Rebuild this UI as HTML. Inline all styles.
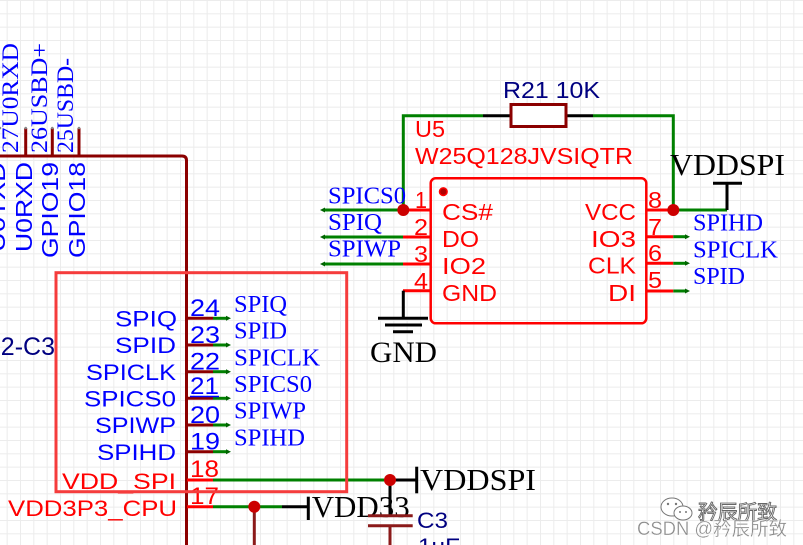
<!DOCTYPE html>
<html><head><meta charset="utf-8"><style>
html,body{margin:0;padding:0;background:#fff;}
svg{display:block;}
.sans{font-family:"Liberation Sans",Arial,sans-serif;}
.serif{font-family:"Liberation Serif","Times New Roman",serif;}
.cjk{font-family:"Liberation Sans","Noto Sans CJK SC",sans-serif;}
</style></head><body>
<svg width="803" height="545" viewBox="0 0 803 545" xmlns="http://www.w3.org/2000/svg">
<defs>
<pattern id="g" x="6.67" y="0" width="13.333" height="13.333" patternUnits="userSpaceOnUse">
<path d="M0 0.5 H13.333 M0.5 0 V13.333" stroke="#ececec" stroke-width="1" fill="none"/>
</pattern>
</defs>
<rect width="803" height="545" fill="#fff"/>
<rect width="803" height="545" fill="url(#g)"/>

<!-- left component -->
<path d="M0 156 H182 Q186.5 156 186.5 160.5 V545" stroke="#8b0000" stroke-width="3" fill="none"/>
<g stroke="#8b0000" stroke-width="3">
<line x1="25.7" y1="128" x2="25.7" y2="156"/>
<line x1="52.3" y1="128" x2="52.3" y2="156"/>
<line x1="79" y1="128" x2="79" y2="156"/>
</g>
<g fill="#888"><circle cx="25.7" cy="128" r="1.3"/><circle cx="52.3" cy="128" r="1.3"/><circle cx="79" cy="128" r="1.3"/><circle cx="0" cy="128" r="1.3"/></g>

<!-- rotated top labels -->
<g class="serif" fill="#0000ff" font-size="23">
<text transform="translate(18,153) rotate(-90)" textLength="110" lengthAdjust="spacingAndGlyphs">27U0RXD</text>
<text transform="translate(47,153) rotate(-90)" textLength="110" lengthAdjust="spacingAndGlyphs">26USBD+</text>
<text transform="translate(73,153) rotate(-90)" textLength="95" lengthAdjust="spacingAndGlyphs">25USBD-</text>
</g>
<g class="sans" fill="#0000ff" font-size="23">
<text transform="translate(5,252) rotate(-90)" textLength="90" lengthAdjust="spacingAndGlyphs">U0TXD</text>
<text transform="translate(32,252) rotate(-90)" textLength="90" lengthAdjust="spacingAndGlyphs">U0RXD</text>
<text transform="translate(58,258) rotate(-90)" textLength="96" lengthAdjust="spacingAndGlyphs">GPIO19</text>
<text transform="translate(85,258) rotate(-90)" textLength="96" lengthAdjust="spacingAndGlyphs">GPIO18</text>
</g>

<text class="sans" x="55" y="355" font-size="25" fill="#000080" text-anchor="end">ESP32-C3</text>

<!-- left comp pins -->
<g stroke-width="3">
<g stroke="#8b0000">
<line x1="187" y1="318.3" x2="213" y2="318.3"/>
<line x1="187" y1="345" x2="213" y2="345"/>
<line x1="187" y1="371.7" x2="213" y2="371.7"/>
<line x1="187" y1="398.3" x2="213" y2="398.3"/>
<line x1="187" y1="425" x2="213" y2="425"/>
<line x1="187" y1="451.7" x2="213" y2="451.7"/>
</g>
<g stroke="#008000">
<line x1="213" y1="318.3" x2="227" y2="318.3"/>
<line x1="213" y1="345" x2="227" y2="345"/>
<line x1="213" y1="371.7" x2="227" y2="371.7"/>
<line x1="213" y1="398.3" x2="227" y2="398.3"/>
<line x1="213" y1="425" x2="227" y2="425"/>
<line x1="213" y1="451.7" x2="227" y2="451.7"/>
</g>
</g>
<g fill="#006400">
<polygon points="226,315.8 231,318.3 226,320.8"/>
<polygon points="226,342.5 231,345 226,347.5"/>
<polygon points="226,369.2 231,371.7 226,374.2"/>
<polygon points="226,395.8 231,398.3 226,400.8"/>
<polygon points="226,422.5 231,425 226,427.5"/>
<polygon points="226,449.2 231,451.7 226,454.2"/>
</g>

<!-- pin names inside left comp -->
<g class="sans" font-size="22" fill="#0000ff">
<text x="115" y="326.5" textLength="62" lengthAdjust="spacingAndGlyphs">SPIQ</text>
<text x="115" y="353" textLength="61" lengthAdjust="spacingAndGlyphs">SPID</text>
<text x="86" y="380" textLength="90" lengthAdjust="spacingAndGlyphs">SPICLK</text>
<text x="84" y="406.5" textLength="92" lengthAdjust="spacingAndGlyphs">SPICS0</text>
<text x="95" y="433" textLength="81" lengthAdjust="spacingAndGlyphs">SPIWP</text>
<text x="97" y="460" textLength="79" lengthAdjust="spacingAndGlyphs">SPIHD</text>
</g>
<g class="sans" font-size="22" fill="#ff0000">
<text x="62" y="489" textLength="114" lengthAdjust="spacingAndGlyphs">VDD_SPI</text>
<text x="8" y="516" textLength="169" lengthAdjust="spacingAndGlyphs">VDD3P3_CPU</text>
</g>
<!-- pin numbers -->
<g class="sans" font-size="24" fill="#0000ff">
<text x="190" y="316" textLength="30" lengthAdjust="spacingAndGlyphs">24</text>
<text x="190" y="343" textLength="30" lengthAdjust="spacingAndGlyphs">23</text>
<text x="190" y="369.5" textLength="30" lengthAdjust="spacingAndGlyphs">22</text>
<text x="190" y="394" textLength="29" lengthAdjust="spacingAndGlyphs">21</text>
<text x="190" y="423" textLength="30" lengthAdjust="spacingAndGlyphs">20</text>
<text x="190" y="449.5" textLength="30" lengthAdjust="spacingAndGlyphs">19</text>
</g>
<line x1="190" y1="396.5" x2="219" y2="396.5" stroke="#0000ff" stroke-width="1.5"/>
<g class="sans" font-size="24" fill="#ff0000">
<text x="190" y="477" textLength="29" lengthAdjust="spacingAndGlyphs">18</text>
<text x="190" y="504" textLength="29" lengthAdjust="spacingAndGlyphs">17</text>
</g>
<!-- net labels right of left comp -->
<g class="serif" font-size="24" fill="#0000ff">
<text x="234" y="312" textLength="53" lengthAdjust="spacingAndGlyphs">SPIQ</text>
<text x="234" y="338.7" textLength="53" lengthAdjust="spacingAndGlyphs">SPID</text>
<text x="234" y="365.3" textLength="86" lengthAdjust="spacingAndGlyphs">SPICLK</text>
<text x="234" y="392" textLength="78" lengthAdjust="spacingAndGlyphs">SPICS0</text>
<text x="234" y="418.7" textLength="72" lengthAdjust="spacingAndGlyphs">SPIWP</text>
<text x="234" y="445.3" textLength="71" lengthAdjust="spacingAndGlyphs">SPIHD</text>
</g>

<!-- power wires bottom -->
<g stroke-width="3" fill="none">
<line x1="187" y1="480" x2="213" y2="480" stroke="#ff0000"/>
<line x1="213" y1="480" x2="390" y2="480" stroke="#008000"/>
<line x1="390" y1="480" x2="416.7" y2="480" stroke="#000"/>
<line x1="416.7" y1="466.7" x2="416.7" y2="493.3" stroke="#000"/>
<line x1="390" y1="480" x2="390" y2="515.7" stroke="#000"/>
<line x1="390" y1="525.7" x2="390" y2="545" stroke="#8b1a1a"/>
<line x1="187" y1="506.7" x2="213" y2="506.7" stroke="#ff0000"/>
<line x1="213" y1="506.7" x2="282" y2="506.7" stroke="#008000"/>
<line x1="282" y1="506.7" x2="308.3" y2="506.7" stroke="#000"/>
<line x1="308.3" y1="496.7" x2="308.3" y2="520" stroke="#000"/>
<line x1="254.3" y1="506.7" x2="254.3" y2="545" stroke="#8b1a1a"/>
</g>
<g class="serif" font-size="31" fill="#000">
<text x="420" y="490" textLength="116" lengthAdjust="spacingAndGlyphs">VDDSPI</text>
<text x="311.7" y="517" textLength="98" lengthAdjust="spacingAndGlyphs">VDD33</text>
</g>
<g stroke="#8b1a1a" stroke-width="3">
<line x1="368" y1="515.7" x2="412.7" y2="515.7"/>
<line x1="368" y1="525.7" x2="412.7" y2="525.7"/>
</g>
<g class="sans" font-size="22" fill="#000080">
<text x="417" y="528" textLength="31" lengthAdjust="spacingAndGlyphs">C3</text>
<text x="418" y="554" textLength="42" lengthAdjust="spacingAndGlyphs">1uF</text>
</g>
<g fill="#cc0000">
<circle cx="390" cy="480" r="6"/>
<circle cx="254.3" cy="506.7" r="6"/>
</g>

<!-- highlight box -->
<rect x="56" y="272.7" width="290.7" height="219" fill="none" stroke="#f53c3c" stroke-width="3"/>

<!-- U5 -->
<rect x="430.7" y="178.3" width="215.6" height="145" rx="5" fill="none" stroke="#ff0000" stroke-width="2.5"/>
<circle cx="443.3" cy="191.7" r="3.8" fill="#b00000" stroke="#ff0000" stroke-width="1.5"/>
<g stroke-width="3" fill="none">
<g stroke="#ff0000">
<line x1="403" y1="210" x2="430.7" y2="210"/>
<line x1="403" y1="237" x2="430.7" y2="237"/>
<line x1="403" y1="264" x2="430.7" y2="264"/>
<line x1="403" y1="290.7" x2="430.7" y2="290.7"/>
<line x1="646.3" y1="210" x2="673.3" y2="210"/>
<line x1="646.3" y1="236.7" x2="673.3" y2="236.7"/>
<line x1="646.3" y1="263.3" x2="673.3" y2="263.3"/>
<line x1="646.3" y1="291" x2="673.3" y2="291"/>
</g>
<g stroke="#008000">
<line x1="324" y1="210" x2="403" y2="210"/>
<line x1="324" y1="237" x2="403" y2="237"/>
<line x1="324" y1="264" x2="403" y2="264"/>
<line x1="673.3" y1="236.7" x2="686" y2="236.7"/>
<line x1="673.3" y1="263.3" x2="686" y2="263.3"/>
<line x1="673.3" y1="291" x2="686" y2="291"/>
<polyline points="403.3,210 403.3,115.7 483,115.7"/>
<polyline points="593,115.7 673.3,115.7 673.3,210 727,210"/>
</g>
<g stroke="#000">
<line x1="483" y1="115.7" x2="511" y2="115.7"/>
<line x1="566" y1="115.7" x2="593" y2="115.7"/>
<line x1="727" y1="210" x2="727" y2="183.3"/>
<line x1="713" y1="183.3" x2="742" y2="183.3"/>
<line x1="403.3" y1="290.7" x2="403.3" y2="318.3"/>
<line x1="378" y1="318.3" x2="428" y2="318.3"/>
<line x1="385" y1="325" x2="422" y2="325"/>
<line x1="393" y1="331.7" x2="413" y2="331.7"/>
</g>
</g>
<rect x="511" y="104.5" width="55" height="22" fill="#fff" stroke="#8b0000" stroke-width="3"/>
<g fill="#006400">
<polygon points="325,207.5 320,210 325,212.5"/>
<polygon points="325,234.5 320,237 325,239.5"/>
<polygon points="325,261.5 320,264 325,266.5"/>
<polygon points="685,234.2 690,236.7 685,239.2"/>
<polygon points="685,260.8 690,263.3 685,265.8"/>
<polygon points="685,288.5 690,291 685,293.5"/>
</g>
<g fill="#cc0000">
<circle cx="403.3" cy="210" r="6"/>
<circle cx="673.3" cy="210" r="6"/>
</g>

<g class="sans" font-size="23" fill="#ff0000">
<text x="415" y="137" textLength="30" lengthAdjust="spacingAndGlyphs">U5</text>
<text x="415" y="164" textLength="218" lengthAdjust="spacingAndGlyphs">W25Q128JVSIQTR</text>
<text x="442" y="220" textLength="51" lengthAdjust="spacingAndGlyphs">CS#</text>
<text x="442" y="247" textLength="37" lengthAdjust="spacingAndGlyphs">DO</text>
<text x="442" y="274" textLength="44" lengthAdjust="spacingAndGlyphs">IO2</text>
<text x="442" y="301" textLength="55" lengthAdjust="spacingAndGlyphs">GND</text>
<text x="585" y="220" textLength="51" lengthAdjust="spacingAndGlyphs">VCC</text>
<text x="591" y="247" textLength="45" lengthAdjust="spacingAndGlyphs">IO3</text>
<text x="588" y="273.5" textLength="48" lengthAdjust="spacingAndGlyphs">CLK</text>
<text x="608" y="301" textLength="28" lengthAdjust="spacingAndGlyphs">DI</text>
<text x="415" y="208" textLength="12" lengthAdjust="spacingAndGlyphs">1</text>
<text x="414" y="235" textLength="14" lengthAdjust="spacingAndGlyphs">2</text>
<text x="414" y="262" textLength="14" lengthAdjust="spacingAndGlyphs">3</text>
<text x="414" y="289" textLength="14" lengthAdjust="spacingAndGlyphs">4</text>
<text x="648" y="208" textLength="14" lengthAdjust="spacingAndGlyphs">8</text>
<text x="648" y="235" textLength="14" lengthAdjust="spacingAndGlyphs">7</text>
<text x="648" y="261" textLength="14" lengthAdjust="spacingAndGlyphs">6</text>
<text x="648" y="288" textLength="14" lengthAdjust="spacingAndGlyphs">5</text>
</g>
<text class="sans" x="503" y="98" font-size="23" fill="#000080" textLength="97" lengthAdjust="spacingAndGlyphs">R21 10K</text>

<g class="serif" font-size="24" fill="#0000ff">
<text x="328" y="203.3" textLength="78" lengthAdjust="spacingAndGlyphs">SPICS0</text>
<text x="328" y="230" textLength="54" lengthAdjust="spacingAndGlyphs">SPIQ</text>
<text x="328" y="256.7" textLength="73" lengthAdjust="spacingAndGlyphs">SPIWP</text>
<text x="693" y="230.7" textLength="70" lengthAdjust="spacingAndGlyphs">SPIHD</text>
<text x="693" y="257.3" textLength="85" lengthAdjust="spacingAndGlyphs">SPICLK</text>
<text x="693" y="284" textLength="52" lengthAdjust="spacingAndGlyphs">SPID</text>
</g>
<g class="serif" fill="#000">
<text x="670" y="175" font-size="31" textLength="115" lengthAdjust="spacingAndGlyphs">VDDSPI</text>
<text x="370" y="362" font-size="30" textLength="67" lengthAdjust="spacingAndGlyphs">GND</text>
</g>

<!-- watermark -->
<g stroke="#777" stroke-width="1" fill="#fff">
<ellipse cx="672" cy="507" rx="11" ry="9"/>
<ellipse cx="683" cy="513" rx="9" ry="7"/>
</g>
<g fill="#777"><circle cx="668" cy="504" r="1.2"/><circle cx="676" cy="504" r="1.2"/><circle cx="680" cy="512" r="1"/><circle cx="686" cy="512" r="1"/></g>
<text class="cjk" x="698" y="519" font-size="20" fill="#fff" stroke="#666" stroke-width="0.9" textLength="79" lengthAdjust="spacingAndGlyphs">矜辰所致</text>
<text class="cjk" x="637" y="535" font-size="19" fill="#8c8c8c" stroke="#fff" stroke-width="0.3" textLength="150" lengthAdjust="spacingAndGlyphs">CSDN @矜辰所致</text>
</svg>
</body></html>
